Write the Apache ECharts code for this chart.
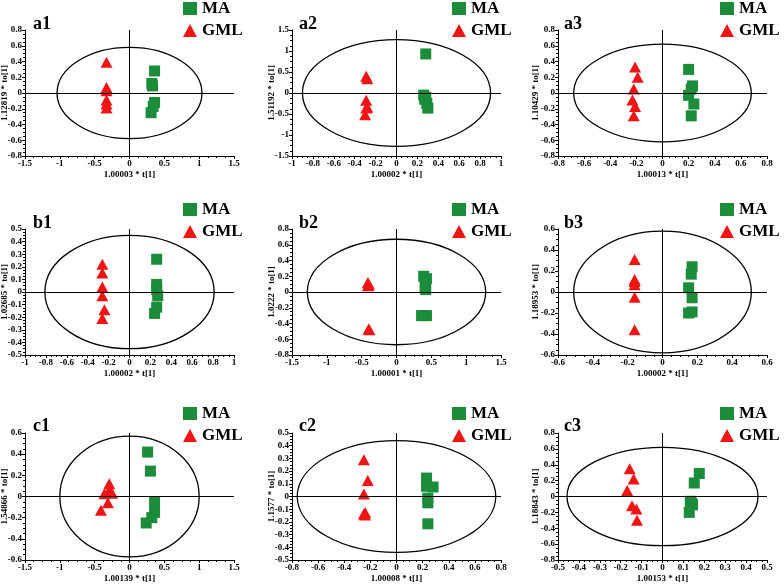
<!DOCTYPE html>
<html>
<head>
<meta charset="utf-8">
<script src="https://cdn.jsdelivr.net/npm/echarts@6.0.0/dist/echarts.min.js"></script>
<style>html,body{margin:0;padding:0;background:#fff}#main{width:784px;height:585px}</style>
</head>
<body>
<div id="main"></div>
<script>
// panel labels and axis titles
var panelNames = ['a1', 'a2', 'a3', 'b1', 'b2', 'b3', 'c1', 'c2', 'c3'];
var xAxisNames = ['1.00003 * t[1]', '1.00002 * t[1]', '1.00013 * t[1]',
	'1.00002 * t[1]', '1.00001 * t[1]', '1.00002 * t[1]',
	'1.00139 * t[1]', '1.00008 * t[1]', '1.00153 * t[1]'];
var yAxisNames = ['1.12819 * to[1]', '1.51192 * to[1]', '1.10429 * to[1]',
	'1.02685 * to[1]', '1.0222 * to[1]', '1.18953 * to[1]',
	'1.54866 * to[1]', '1.1577 * to[1]', '1.18843 * to[1]'];

// [min, max, interval]
var xRanges = [[-1.5, 1.5, 0.5], [-1, 1, 0.2], [-0.8, 0.8, 0.2],
	[-1, 1, 0.2], [-1.5, 1.5, 0.5], [-0.6, 0.6, 0.2],
	[-1.5, 1.5, 0.5], [-0.8, 0.8, 0.2], [-0.5, 0.5, 0.1]];
var yRanges = [[-0.8, 0.8, 0.2], [-1.5, 1.5, 0.5], [-0.8, 0.8, 0.2],
	[-0.5, 0.5, 0.1], [-0.8, 0.8, 0.2], [-0.6, 0.6, 0.2],
	[-0.6, 0.6, 0.2], [-0.5, 0.5, 0.1], [-0.8, 0.8, 0.2]];

// Hotelling T2 ellipse half-axes [rx, ry]
var ellipseRadii = [[1.04, 0.58], [0.9, 1.27], [0.68, 0.62],
	[0.81, 0.45], [1.28, 0.67], [0.51, 0.58],
	[1.0, 0.57], [0.76, 0.44], [0.457, 0.62]];

// scores [t, to]
var a1MA = [[0.36, 0.28], [0.32, 0.12], [0.33, 0.09], [0.36, -0.12], [0.34, -0.17], [0.31, -0.25]];
var a1GML = [[-0.33, 0.39], [-0.33, 0.07], [-0.33, 0.03], [-0.33, -0.09], [-0.33, -0.14], [-0.33, -0.19]];
var a2MA = [[0.28, 0.93], [0.26, -0.05], [0.28, -0.1], [0.27, -0.15], [0.29, -0.25], [0.3, -0.36]];
var a2GML = [[-0.29, 0.4], [-0.28, 0.34], [-0.29, -0.17], [-0.28, -0.34], [-0.3, -0.52], [-0.29, -0.36]];
var a3MA = [[0.2, 0.3], [0.23, 0.09], [0.22, 0.05], [0.2, -0.03], [0.24, -0.14], [0.22, -0.29]];
var a3GML = [[-0.21, 0.33], [-0.19, 0.2], [-0.22, 0.05], [-0.23, -0.09], [-0.21, -0.17], [-0.22, -0.29]];
var b1MA = [[0.26, 0.26], [0.26, 0.06], [0.26, 0.02], [0.27, -0.03], [0.26, -0.12], [0.24, -0.17]];
var b1GML = [[-0.26, 0.22], [-0.26, 0.15], [-0.26, 0.04], [-0.26, -0.03], [-0.24, -0.14], [-0.26, -0.21]];
var b2MA = [[0.39, 0.2], [0.43, 0.17], [0.41, 0.07], [0.42, 0.03], [0.36, -0.3], [0.43, -0.3]];
var b2GML = [[-0.41, 0.12], [-0.4, 0.1], [-0.41, 0.08], [-0.4, 0.09], [-0.39, -0.48], [-0.4, -0.47]];
var b3MA = [[0.17, 0.24], [0.165, 0.17], [0.15, 0.04], [0.17, -0.055], [0.17, -0.19], [0.15, -0.2]];
var b3GML = [[-0.16, 0.31], [-0.16, 0.12], [-0.16, 0.07], [-0.16, 0.1], [-0.16, -0.05], [-0.16, -0.36]];
var c1MA = [[0.26, 0.42], [0.3, 0.24], [0.36, -0.05], [0.36, -0.15], [0.32, -0.2], [0.24, -0.25]];
var c1GML = [[-0.29, 0.12], [-0.29, 0.06], [-0.25, 0.03], [-0.36, 0.025], [-0.31, -0.06], [-0.41, -0.13]];
var c2MA = [[0.23, 0.145], [0.23, 0.08], [0.28, 0.075], [0.24, -0.013], [0.24, -0.05], [0.24, -0.215]];
var c2GML = [[-0.25, 0.29], [-0.22, 0.126], [-0.25, 0.02], [-0.24, -0.126], [-0.24, -0.145], [-0.25, -0.137]];
var c3MA = [[0.176, 0.29], [0.152, 0.17], [0.133, -0.06], [0.144, -0.105], [0.139, -0.085], [0.128, -0.2]];
var c3GML = [[-0.157, 0.35], [-0.138, 0.22], [-0.169, 0.076], [-0.146, -0.118], [-0.125, -0.156], [-0.122, -0.3]];

var maSets = [a1MA, a2MA, a3MA, b1MA, b2MA, b3MA, c1MA, c2MA, c3MA];
var gmlSets = [a1GML, a2GML, a3GML, b1GML, b2GML, b3GML, c1GML, c2GML, c3GML];

var font = "'Liberation Serif', 'Times New Roman', serif";
var green = '#1b8c3a', red = '#f01414';

var colLeft = [25, 292, 558], colWidth = 209;
var rowTop = [30, 229, 433], rowHeight = 126;
var titleLeft = [33, 299, 564], titleTop = [15, 214, 417];
var legendLeft = [183, 452, 720], legendTop = [0, 201, 405];

function axisCommon(i, range, name, gap) {
	return {
		type: 'value',
		gridIndex: i,
		min: range[0],
		max: range[1],
		interval: range[2],
		name: name,
		nameLocation: 'middle',
		nameGap: gap,
		nameMoveOverlap: false,
		nameTextStyle: {fontFamily: font, fontWeight: 'bold', fontSize: 9, color: '#000'},
		axisLine: {onZero: false, lineStyle: {color: '#000', width: 1}},
		axisTick: {show: true, length: 3, lineStyle: {color: '#000'}},
		minorTick: {show: true, splitNumber: 4, length: 2, lineStyle: {color: '#000'}},
		splitLine: {show: false},
		axisLabel: {fontFamily: font, fontWeight: 'bold', fontSize: 9, color: '#000', margin: 3}
	};
}

var grids = [], xAxes = [], yAxes = [], series = [], titles = [], legends = [];

for (var i = 0; i < 9; i++) {
	var r = Math.floor(i / 3), c = i % 3;
	grids.push({
		left: colLeft[c], top: rowTop[r], width: colWidth, height: rowHeight + (r == 2 ? 1 : 0),
		outerBoundsMode: 'none', containLabel: false
	});

	xAxes.push(axisCommon(i, xRanges[i], xAxisNames[i], 14));
	yAxes.push(axisCommon(i, yRanges[i], yAxisNames[i], c == 2 ? 18 : 16));

	titles.push({
		text: panelNames[i], left: titleLeft[c], top: titleTop[r], padding: 0,
		textStyle: {fontFamily: font, fontWeight: 'bold', fontSize: 18, color: '#000'}
	});

	legends.push({
		data: [{name: 'MA', icon: 'rect'}, {name: 'GML', icon: 'triangle'}],
		orient: 'vertical', left: legendLeft[c], top: legendTop[r], padding: 0,
		itemWidth: 14, itemHeight: 13, itemGap: 5, selectedMode: false,
		textStyle: {fontFamily: font, fontWeight: 'bold', fontSize: 17, color: '#000'}
	});

	series.push({
		type: 'custom', xAxisIndex: i, yAxisIndex: i, silent: true, z: 1,
		data: [[0, 0, ellipseRadii[i][0], ellipseRadii[i][1]]],
		renderItem: function (params, api) {
			var ctr = api.coord([0, 0]);
			var sz = api.size([api.value(2), api.value(3)]);
			return {
				type: 'ellipse',
				shape: {cx: ctr[0], cy: ctr[1], rx: sz[0], ry: sz[1]},
				style: {fill: 'none', stroke: '#000', lineWidth: 1.3}
			};
		}
	});

	series.push({
		name: 'GML', type: 'scatter', xAxisIndex: i, yAxisIndex: i, z: 3,
		symbol: 'triangle', symbolSize: [12, 11],
		itemStyle: {color: red, opacity: 1},
		data: gmlSets[i],
		markLine: {
			silent: true, symbol: ['none', 'none'], label: {show: false},
			lineStyle: {color: '#000', type: 'solid', width: 1},
			data: [{xAxis: 0}, {yAxis: 0}]
		}
	});

	series.push({
		name: 'MA', type: 'scatter', xAxisIndex: i, yAxisIndex: i, z: 3,
		symbol: 'rect', symbolSize: 11,
		itemStyle: {color: green, opacity: 1},
		data: maSets[i]
	});
}

var myChart = echarts.init(document.getElementById('main'));
myChart.setOption({
	animation: false,
	backgroundColor: '#fff',
	title: titles,
	legend: legends,
	grid: grids,
	xAxis: xAxes,
	yAxis: yAxes,
	series: series
});
</script>
</body>
</html>
